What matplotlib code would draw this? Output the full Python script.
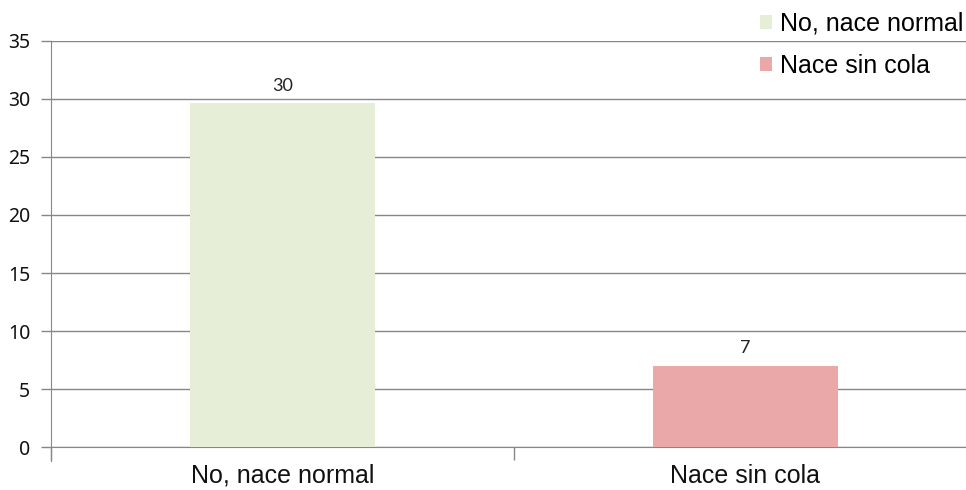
import matplotlib
matplotlib.use("Agg")
import matplotlib.pyplot as plt

# data
categories = ["No, nace normal", "Nace sin cola"]
values = [29.6, 7]
value_labels = ["30", "7"]
colors = ["#E6EED8", "#EAA8A8"]
y_ticks = [0, 5, 10, 15, 20, 25, 30, 35]

grid_color = "#878787"

fig = plt.figure(figsize=(9.66, 4.9), dpi=100)
# axes extends slightly past the right edge, as in the reference (cropped)
ax = fig.add_axes([51 / 966, 1 - 447.3 / 490, 926 / 966, (447.3 - 40.7) / 490])

x = list(range(len(categories)))
for i, (cat, val, col) in enumerate(zip(categories, values, colors)):
    ax.bar(i, val, width=0.40, color=col, label=cat, zorder=3)
    ax.annotate(value_labels[i], (i, val), xytext=(0, 7), textcoords="offset points",
                ha="center", va="bottom", fontsize=13, family="Lato", color="#222222")

ax.set_xlim(-0.5, len(categories) - 0.5)
ax.set_ylim(0, 35)
ax.set_yticks(y_ticks)
ax.yaxis.grid(True, color=grid_color, linewidth=1.0, zorder=0)
ax.set_axisbelow(True)

ax.set_xticks(x)
ax.set_xticklabels(categories, fontsize=18, family="Liberation Sans", color="#111111")
ax.tick_params(axis="x", length=0, pad=12)
ax.set_xticks([-0.5, 0.5, 1.5], minor=True)
ax.tick_params(axis="x", which="minor", length=9, color=grid_color, width=1.0)
ax.tick_params(axis="y", length=7, color=grid_color, width=1.0, pad=8, labelsize=14,
               labelcolor="#111111")
for lbl in ax.get_yticklabels():
    lbl.set_family("Noto Sans")

for side in ["top", "right"]:
    ax.spines[side].set_visible(False)
ax.spines["left"].set_color(grid_color)
ax.spines["bottom"].set_color(grid_color)
ax.spines["left"].set_bounds(-1.2, 35)

fig.legend(loc="upper left", bbox_to_anchor=(742 / 966, 1.0 + 6 / 490), frameon=False,
           prop={"family": "Liberation Sans", "size": 18}, handlelength=0.5,
           handleheight=0.5, handletextpad=0.3, labelspacing=0.72, borderpad=0.2)

fig.savefig("out.png", dpi=100)
